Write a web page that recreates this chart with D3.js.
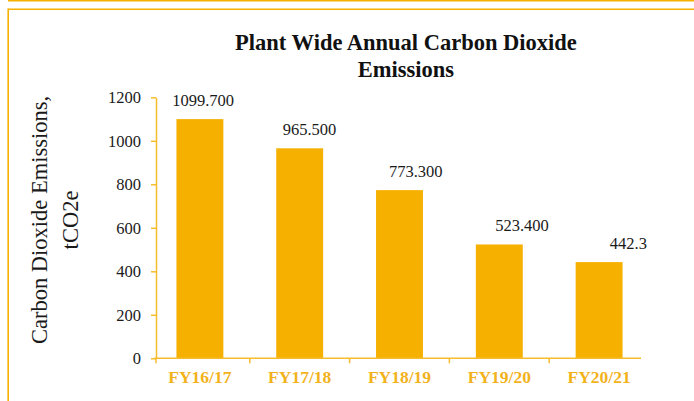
<!DOCTYPE html>
<html>
<head>
<meta charset="utf-8">
<script src="https://cdn.jsdelivr.net/npm/d3@7/dist/d3.min.js"></script>
<style>
  html, body { margin: 0; padding: 0; background: #fff; }
  svg { display: block; }
  text { font-family: "Liberation Serif", "Times New Roman", serif; }
</style>
</head>
<body>
<script>
// Annual plant-wide CO2 emissions (tCO2e) by financial year
const categories = ["FY16/17", "FY17/18", "FY18/19", "FY19/20", "FY20/21"];
const emissions = [1099.7, 965.5, 773.3, 523.4, 442.3];
const valueLabels = ["1099.700", "965.500", "773.300", "523.400", "442.3"];
const yTicks = [0, 200, 400, 600, 800, 1000, 1200];

const W = 694, H = 401;
const barColor = "#F5B000";
const axisColor = "#F6BC2E";
const catColor = "#F2B21C";

const svg = d3.select("body").append("svg")
  .attr("width", W).attr("height", H);

// Frame lines
const frame = svg.append("g").attr("stroke", barColor).attr("stroke-width", 1.6).attr("fill", "none");
frame.append("line").attr("x1", 8).attr("x2", W).attr("y1", 0.6).attr("y2", 0.6);
frame.append("line").attr("x1", 8).attr("x2", W).attr("y1", 9.3).attr("y2", 9.3);
frame.append("line").attr("x1", 8.2).attr("x2", 8.2).attr("y1", 8.5).attr("y2", H);

// Scales
const axisX = 156;
const y = d3.scaleLinear().domain([0, 1200]).range([358.3, 97.3]);
const x = d3.scaleBand().domain(categories).range([150, 649])
  .paddingInner(0.53).paddingOuter(0.265);
const labelX = d3.scaleBand().domain(categories).range([150, 681.5]);

// Bars
svg.append("g").selectAll("rect")
  .data(categories)
  .join("rect")
  .attr("x", d => x(d))
  .attr("width", x.bandwidth())
  .attr("y", (d, i) => y(emissions[i]))
  .attr("height", (d, i) => y(0) - y(emissions[i]))
  .attr("fill", barColor);

// Value labels
svg.append("g").selectAll("text")
  .data(categories)
  .join("text")
  .attr("x", d => labelX(d) + labelX.bandwidth() / 2)
  .attr("y", (d, i) => y(emissions[i]) - 13.3)
  .attr("text-anchor", "middle")
  .attr("font-size", 16.5)
  .attr("fill", "#1a1a1a")
  .text((d, i) => valueLabels[i]);

// Y axis
const yAxis = svg.append("g")
  .attr("transform", `translate(${axisX},0)`)
  .call(d3.axisLeft(y).tickValues(yTicks).tickFormat(d3.format("d"))
    .tickSize(5).tickSizeOuter(0).tickPadding(10));
yAxis.select(".domain").attr("stroke", axisColor).attr("stroke-width", 1.5);
yAxis.selectAll(".tick line").attr("stroke", axisColor).attr("stroke-width", 1.5);
yAxis.selectAll(".tick text")
  .attr("font-family", "Liberation Serif, serif")
  .attr("font-size", 16.5).attr("fill", "#1a1a1a");

// X axis baseline, category dividers and labels
const xAxis = svg.append("g");
xAxis.append("line")
  .attr("x1", axisX - 2).attr("x2", 641)
  .attr("y1", y(0)).attr("y2", y(0))
  .attr("stroke", axisColor).attr("stroke-width", 1.5);
const step = x.step();
const dividers = [axisX].concat(categories.slice(1).map((d, i) => x.range()[0] + step * (i + 1)));
xAxis.selectAll("line.div")
  .data(dividers)
  .join("line")
  .attr("class", "div")
  .attr("x1", d => d).attr("x2", d => d)
  .attr("y1", y(0)).attr("y2", y(0) + 5)
  .attr("stroke", axisColor).attr("stroke-width", 1.5);
xAxis.selectAll("text")
  .data(categories)
  .join("text")
  .attr("x", d => x(d) + x.bandwidth() / 2)
  .attr("y", 383.3)
  .attr("text-anchor", "middle")
  .attr("font-size", 17.5)
  .attr("font-weight", "bold")
  .attr("fill", catColor)
  .text(d => d);

// Title
const title = svg.append("text")
  .attr("text-anchor", "middle")
  .attr("font-size", 22.5)
  .attr("font-weight", "bold")
  .attr("fill", "#111");
title.append("tspan").attr("x", 406).attr("y", 50).text("Plant Wide Annual Carbon Dioxide");
title.append("tspan").attr("x", 406).attr("y", 76.7).text("Emissions");

// Y axis title
const yTitle = ["Carbon Dioxide Emissions,", "tCO2e"];
svg.append("g").selectAll("text")
  .data(yTitle)
  .join("text")
  .attr("transform", (d, i) => `translate(${46.5 + i * 31.5},220) rotate(-90)`)
  .attr("text-anchor", "middle")
  .attr("font-size", 22.5)
  .attr("fill", "#1a1a1a")
  .text(d => d);
</script>
</body>
</html>
